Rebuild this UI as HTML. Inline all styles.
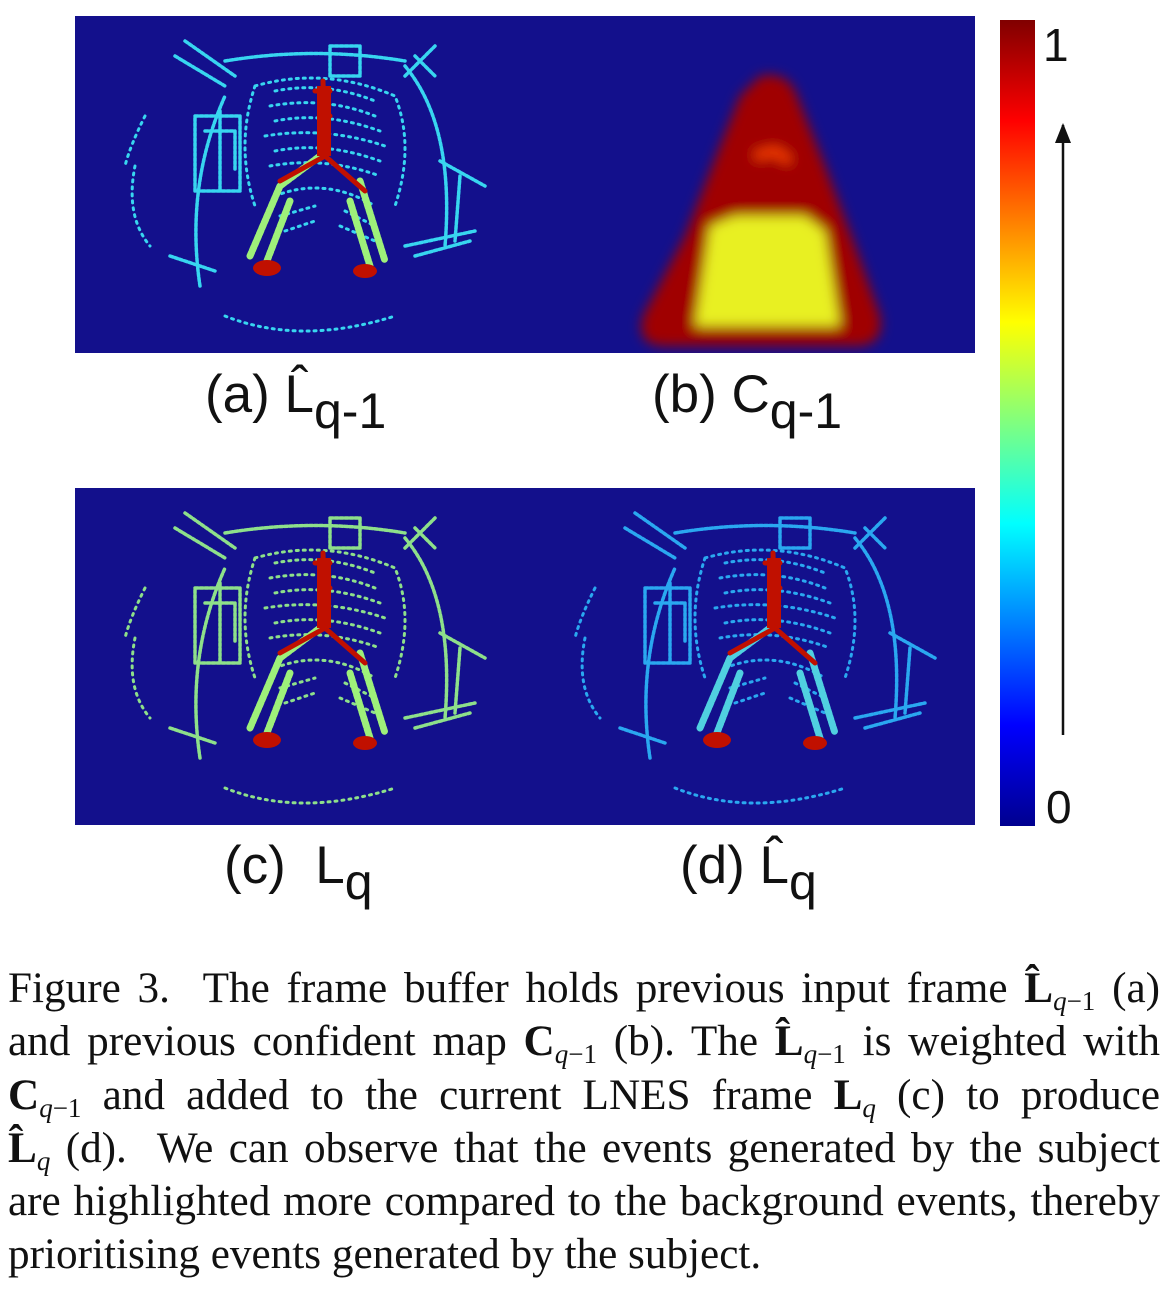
<!DOCTYPE html>
<html><head><meta charset="utf-8">
<style>
body{margin:0;width:1166px;height:1298px;background:#fff;position:relative;overflow:hidden;font-family:"Liberation Sans",sans-serif}
.panel{position:absolute;width:450px;height:337px;background:#13108c}
.lbl{position:absolute;font-size:53px;color:#111;white-space:nowrap}
.lbl sub{font-size:50px;vertical-align:-16px;line-height:0}
#cap{position:absolute;left:8px;top:962px;width:1152px;font-family:"Liberation Serif",serif;font-size:43.2px;line-height:53.3px;color:#111}
#cap .ln{white-space:nowrap;text-align:justify;text-align-last:justify;height:53.3px}
#cap .ln.last{text-align-last:left}
#cap b{font-weight:bold}
#cap sub{font-size:27px;vertical-align:-8px;line-height:0}
#cap sub i{font-style:italic}
</style></head><body>
<svg width="0" height="0" style="position:absolute">
<defs>
<filter id="bl"><feGaussianBlur stdDeviation="6"/></filter>
<g id="scene" fill="none" stroke-linecap="round">
 <g stroke="var(--c1)" stroke-width="3.5" stroke-dasharray="3 2">
  <path d="M125,270 Q110,170 150,80"/>
  <path d="M110,25 L160,60 M100,40 L150,70"/>
  <path d="M150,45 Q240,30 330,45"/>
  <path d="M340,40 L360,60 M330,60 L360,30"/>
  <path d="M330,50 Q380,110 370,230"/>
  <path d="M330,230 L400,215 M340,240 L395,225 M365,145 L410,170"/>
  <path d="M385,160 L380,225"/>
  <path d="M120,100 h45 v75 h-45 z M130,115 h30 v40 M145,95 v80"/>
  <path d="M255,30 h30 v30 h-30 z"/>
  <path d="M95,240 L140,255"/>
 </g>
 <g stroke="var(--c1)" stroke-width="3" stroke-dasharray="2 5">
  <path d="M180,70 Q250,50 320,80 Q340,130 320,190 M180,70 Q160,130 180,190"/>
  <path d="M195,90 Q250,80 300,100 M190,120 Q250,110 310,130 M195,150 Q250,140 305,160"/>
  <path d="M200,75 Q250,65 300,85 M200,105 Q250,95 305,115 M200,135 Q250,125 305,145"/>
  <path d="M60,150 Q50,200 75,230 M70,100 Q55,130 50,150 M150,300 Q225,330 320,300"/>
  <path d="M200,180 Q250,160 300,190 M205,200 L240,190 M270,195 L300,210"/>
  <path d="M210,215 L240,205 M265,210 L300,225"/>
 </g>
 <g stroke="var(--c2)" stroke-width="7" stroke-dasharray="4 2">
  <path d="M175,240 L205,170 L245,140 M285,165 L310,245"/>
  <path d="M190,250 L215,185 M295,250 L275,185"/>
 </g>
 <g stroke="var(--c3)" stroke-width="5">
  <path d="M248,65 L250,140 L205,165 M250,140 L290,175"/>
  <path d="M240,75 L255,75 M245,100 L255,100"/>
 </g>
 <g fill="var(--c3)" stroke="none">
  <ellipse cx="192" cy="252" rx="14" ry="8"/>
  <ellipse cx="290" cy="255" rx="12" ry="7"/>
  <rect x="242" y="70" width="14" height="70"/>
 </g>
</g>
</defs></svg>

<div class="panel" style="left:75px;top:16px">
<svg width="450" height="337" style="--c1:#38d6f0;--c2:#9ef07a;--c3:#c01000"><use href="#scene"/></svg></div>
<div class="panel" style="left:525px;top:16px">
<svg width="450" height="337"><g filter="url(#bl)">
<path d="M235,60 Q260,55 270,75 L300,150 L330,230 L355,300 Q360,330 330,330 L140,330 Q110,330 118,300 L160,220 L195,130 L215,80 Z" fill="#a00000"/>
<path d="M185,210 L210,200 L280,200 L300,215 L315,310 L170,310 Z" fill="#e8f020"/>
<path d="M230,140 L250,135 L265,145" stroke="#ff4000" stroke-width="8" fill="none"/>
</g></svg></div>
<div class="panel" style="left:75px;top:488px">
<svg width="450" height="337" style="--c1:#8ee08a;--c2:#9ef07a;--c3:#c01000"><use href="#scene"/></svg></div>
<div class="panel" style="left:525px;top:488px">
<svg width="450" height="337" style="--c1:#2aa8f0;--c2:#50d0e0;--c3:#c01000"><use href="#scene"/></svg></div>

<div class="lbl" style="left:205px;top:364px">(a) L&#770;<sub>q-1</sub></div>
<div class="lbl" style="left:652px;top:364px">(b) C<sub>q-1</sub></div>
<div class="lbl" style="left:224px;top:835px">(c)&nbsp; L<sub>q</sub></div>
<div class="lbl" style="left:680px;top:835px">(d) L&#770;<sub>q</sub></div>

<div style="position:absolute;left:1000px;top:20px;width:35px;height:806px;background:linear-gradient(to bottom,#800000 0%,#ff0000 12.5%,#ffff00 37.5%,#00ffff 62.5%,#0000ff 87.5%,#00008f 100%)"></div>
<div class="lbl" style="left:1043px;top:18px;font-size:46px">1</div>
<div class="lbl" style="left:1046px;top:780px;font-size:46px">0</div>
<svg style="position:absolute;left:1050px;top:115px" width="30" height="625"><line x1="13" y1="620" x2="13" y2="10" stroke="#111" stroke-width="2.5"/><path d="M5,28 L13,8 L21,28 Z" fill="#111"/></svg>

<div id="cap">
<div class="ln">Figure 3.&nbsp; The frame buffer holds previous input frame <b>L&#770;</b><sub><i>q</i>&minus;1</sub> (a)</div>
<div class="ln">and previous confident map <b>C</b><sub><i>q</i>&minus;1</sub> (b). The <b>L&#770;</b><sub><i>q</i>&minus;1</sub> is weighted with</div>
<div class="ln"><b>C</b><sub><i>q</i>&minus;1</sub> and added to the current LNES frame <b>L</b><sub><i>q</i></sub> (c) to produce</div>
<div class="ln"><b>L&#770;</b><sub><i>q</i></sub> (d).&nbsp; We can observe that the events generated by the subject</div>
<div class="ln">are highlighted more compared to the background events, thereby</div>
<div class="ln last">prioritising events generated by the subject.</div>
</div>
</body></html>
